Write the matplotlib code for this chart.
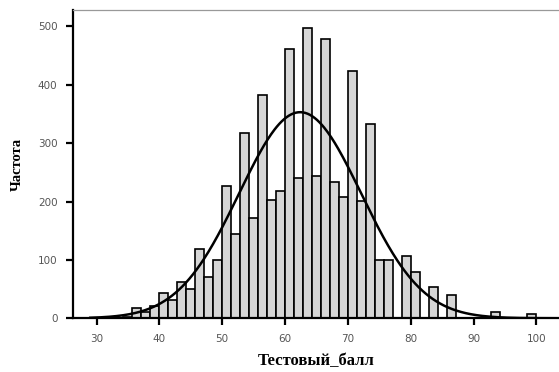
import numpy as np
import matplotlib.pyplot as plt

# ---------------------------------------------------------
# Data (bin width 10/7, starting at 34.29)
# ---------------------------------------------------------
bin_width = 10 / 7
bin_start = 240 / 7   # 34.29
counts = [3, 17, 10, 21, 43, 31, 63, 51, 118, 71,
          99, 227, 145, 318, 171, 382, 203, 218, 461, 241,
          498, 244, 478, 234, 208, 424, 201, 332, 99, 99,
          0, 107, 80, 0, 54, 0, 40, 0, 0, 0,
          0, 10, 0, 0, 0, 7]
mean_score = 62.4
sd_score = 9.7

xticks = [30, 40, 50, 60, 70, 80, 90, 100]
yticks = [0, 100, 200, 300, 400, 500]

# ---------------------------------------------------------
# Plot
# ---------------------------------------------------------
left_edges = bin_start + bin_width * np.arange(len(counts))
n_total = sum(counts)

fig = plt.figure(figsize=(5.59, 3.72), dpi=100)
ax = fig.add_axes([0.130, 0.1444, 0.870, 0.8287])

ax.bar(left_edges, counts, width=bin_width, align='edge',
       color='#d6d6d6', edgecolor='black', linewidth=1.2)

xs = np.linspace(29, 104, 400)
pdf = np.exp(-0.5 * ((xs - mean_score) / sd_score) ** 2) / (sd_score * np.sqrt(2 * np.pi))
ax.plot(xs, pdf * n_total * bin_width, color='black', linewidth=1.8)

ax.set_xlim(26.2, 103.6)
ax.set_ylim(0, 528)
ax.set_xticks(xticks)
ax.set_yticks(yticks)

ax.spines['right'].set_visible(False)
ax.spines['top'].set_color('#999999')
ax.spines['top'].set_linewidth(0.9)
ax.spines['left'].set_linewidth(1.6)
ax.spines['bottom'].set_linewidth(1.6)
ax.tick_params(axis='both', direction='out', length=5, width=1.6,
               labelsize=7.5, labelcolor='#555555', pad=6)

ax.set_xlabel('Тестовый_балл', family='Liberation Serif', fontweight='bold',
              fontsize=12, labelpad=7)
ax.set_ylabel('Частота', family='Liberation Serif', fontweight='bold',
              fontsize=10.5, labelpad=10)

fig.savefig('out.png', dpi=100)
